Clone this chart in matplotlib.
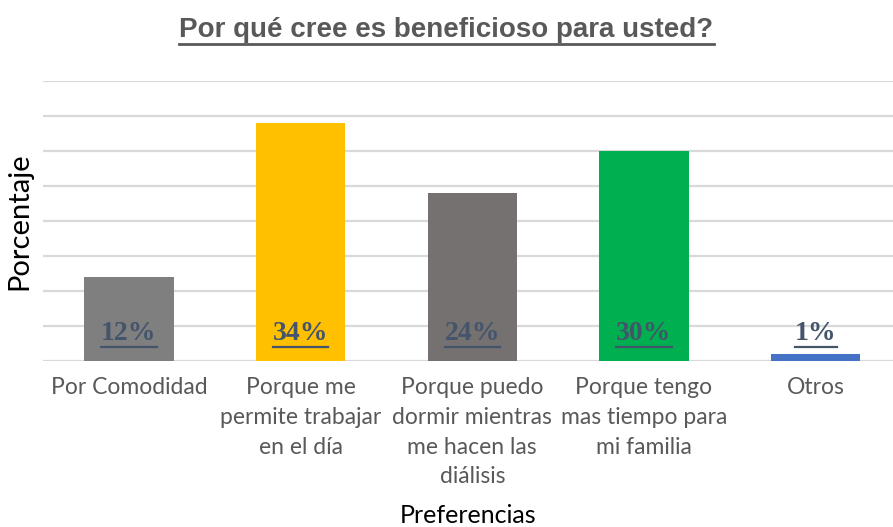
import matplotlib
matplotlib.use('Agg')
import matplotlib.pyplot as plt
from matplotlib.lines import Line2D

# data
categorias = ['Por Comodidad',
              'Porque me\npermite trabajar\nen el día',
              'Porque puedo\ndormir mientras\nme hacen las\ndiálisis',
              'Porque tengo\nmas tiempo para\nmi familia',
              'Otros']
porcentajes = [12, 34, 24, 30, 1]
etiquetas = ['12%', '34%', '24%', '30%', '1%']
colores = ['#7F7F7F', '#FFC000', '#767171', '#00B050', '#4472C4']

fig = plt.figure(figsize=(8.93, 5.27), dpi=100)
ax = fig.add_axes([43 / 893, 1 - 361 / 527, 850 / 893, 280 / 527])

x = range(len(categorias))
ax.bar(x, porcentajes, width=0.52, color=colores, zorder=3)
ax.set_xlim(-0.5, 4.45)
ax.set_ylim(0, 40)
ax.set_yticks(range(0, 41, 5))
ax.yaxis.grid(True, color='#D9D9D9', linewidth=1.6, zorder=0)
ax.tick_params(axis='y', left=False, labelleft=False)
ax.tick_params(axis='x', bottom=False, pad=8)
for s in ['top', 'right', 'left', 'bottom']:
    ax.spines[s].set_visible(False)

ax.set_xticks(list(x))
ax.set_xticklabels(categorias, fontsize=16.5, color='#595959',
                   family=['Lato', 'DejaVu Sans'], linespacing=1.52, va='top')

ax.set_ylabel('Porcentaje', fontsize=21, color='black',
              family=['Lato', 'DejaVu Sans'], labelpad=8)
ax.set_xlabel('Preferencias', fontsize=18, color='black',
              family=['Lato', 'DejaVu Sans'], labelpad=12)

textos = []
for i, t in enumerate(etiquetas):
    textos.append(ax.text(i, 4, t, ha='center', va='center', fontsize=20,
                          fontweight='bold', color='#44546A',
                          family=['Liberation Serif', 'DejaVu Serif'], zorder=4))

titulo = fig.text(0.5, 1 - 30 / 527, 'Por qué cree es beneficioso para usted?',
                  ha='center', va='center', fontsize=20, fontweight='bold',
                  color='#595959',
                  family=['Liberation Sans', 'DejaVu Sans'])

# underline the title and the value labels
fig.canvas.draw()
r = fig.canvas.get_renderer()
H = fig.bbox.height
W = fig.bbox.width
for t, lw in [(titulo, 2.0)] + [(t, 1.6) for t in textos]:
    bb = t.get_window_extent(r)
    y = bb.y0 - 1
    fig.add_artist(Line2D([bb.x0 / W, bb.x1 / W], [y / H, y / H],
                          transform=fig.transFigure, color=t.get_color(),
                          linewidth=lw, zorder=5))

fig.savefig('out.png', dpi=100)
